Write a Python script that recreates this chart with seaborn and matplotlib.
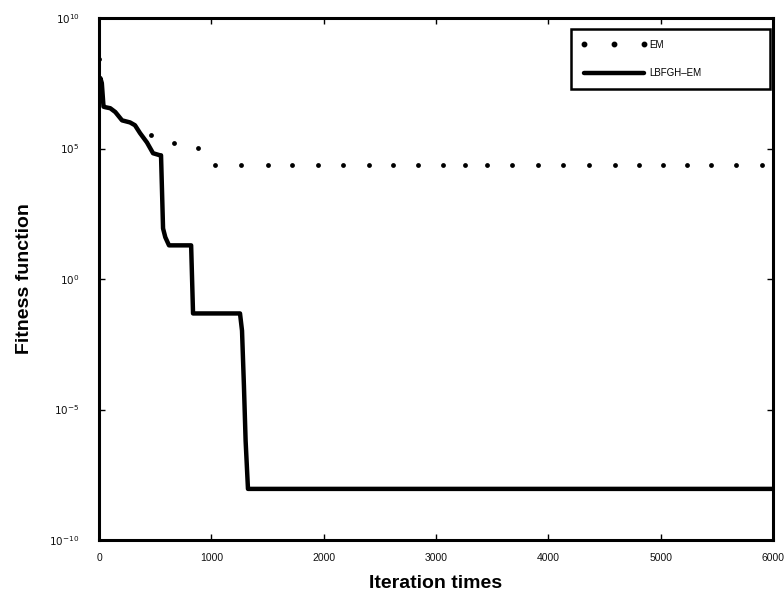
import numpy as np
import pandas as pd
import matplotlib
matplotlib.use("Agg")
import matplotlib.pyplot as plt
from matplotlib.lines import Line2D
import seaborn as sns

# ---- data ----
em_iter = [0, 460, 670, 880, 1030, 1260, 1500, 1720, 1950, 2170, 2400, 2620, 2840,
           3060, 3260, 3450, 3680, 3910, 4130, 4360, 4590, 4810, 5020, 5230, 5450,
           5670, 5900]
em_fit = [2.7e8, 3.2e5, 1.6e5, 1.07e5] + [2.3e4] * 23

lb_iter = [0, 12, 25, 40, 60, 100, 145, 205, 276, 320, 365, 427, 481, 543, 552,
           570, 590, 623, 820, 837, 1255, 1273, 1290, 1305, 1326, 6000]
lb_fit = [1.2e7, 5.0e7, 3.2e7, 4.0e6, 3.8e6, 3.5e6, 2.5e6, 1.2e6, 1.0e6, 7.8e5,
          3.9e5, 1.7e5, 6.6e4, 5.5e4, 5.5e4, 87, 40, 19.5, 19.5, 0.048, 0.048,
          0.0105, 8.1e-5, 6.3e-7, 9.1e-9, 9.1e-9]

x_ticks = [0, 1000, 2000, 3000, 4000, 5000, 6000]
y_exps = [-10, -5, 0, 5, 10]
labels = ["EM", "LBFGH\u2013EM"]

em_df = pd.DataFrame({"iter": em_iter, "fit": em_fit})
lb_df = pd.DataFrame({"iter": lb_iter, "fit": lb_fit})

sns.set_style("ticks")
plt.rcParams["font.family"] = ["Liberation Sans", "DejaVu Sans"]
plt.rcParams["text.color"] = "black"

fig = plt.figure(figsize=(7.84, 5.95), dpi=100)
ax = fig.add_axes([0.1263, 0.0924, 0.8597, 0.8773])

sns.lineplot(data=lb_df, x="iter", y="fit", ax=ax, color="black", linewidth=3.2,
             sort=False, estimator=None)
sns.scatterplot(data=em_df, x="iter", y="fit", ax=ax, color="black", s=12,
                edgecolor="black", linewidth=0, zorder=3)

ax.set_yscale("log")
ax.set_xlim(0, 6000)
ax.set_ylim(1e-10, 1e10)
ax.set_xticks(x_ticks)
ax.set_xticklabels([str(t) for t in x_ticks])
ax.set_yticks([10.0 ** e for e in y_exps])
ax.set_yticklabels([r"$10^{%d}$" % e for e in y_exps])
ax.yaxis.set_minor_locator(matplotlib.ticker.NullLocator())

ax.tick_params(axis="both", which="major", direction="in", length=4, width=1,
               top=True, right=True, labelcolor="#111111", color="black")
ax.tick_params(axis="x", labelsize=7.5, pad=9)
ax.tick_params(axis="y", labelsize=7.5, pad=14)
for s in ax.spines.values():
    s.set_linewidth(2.2)
    s.set_color("black")

ax.set_xlabel("Iteration times", fontsize=14, fontweight="bold", labelpad=9,
              color="black")
ax.set_ylabel("Fitness function", fontsize=14, fontweight="bold", labelpad=12,
              color="black")

handles = [Line2D([], [], ls="", marker="o", ms=3.2, color="black"),
           Line2D([], [], lw=3.2, color="black")]
leg = ax.legend(handles, labels, loc="upper left",
                bbox_to_anchor=(0.700, 0.979, 0.2955, 0), mode="expand",
                numpoints=3, fontsize=7, frameon=True, fancybox=False,
                framealpha=1.0, edgecolor="black", borderpad=1.1,
                labelspacing=1.9, handlelength=6.7, handletextpad=0.3,
                borderaxespad=0)
leg.get_frame().set_linewidth(1.8)
for t in leg.get_texts():
    t.set_color("black")

fig.savefig("out.png", dpi=100)
